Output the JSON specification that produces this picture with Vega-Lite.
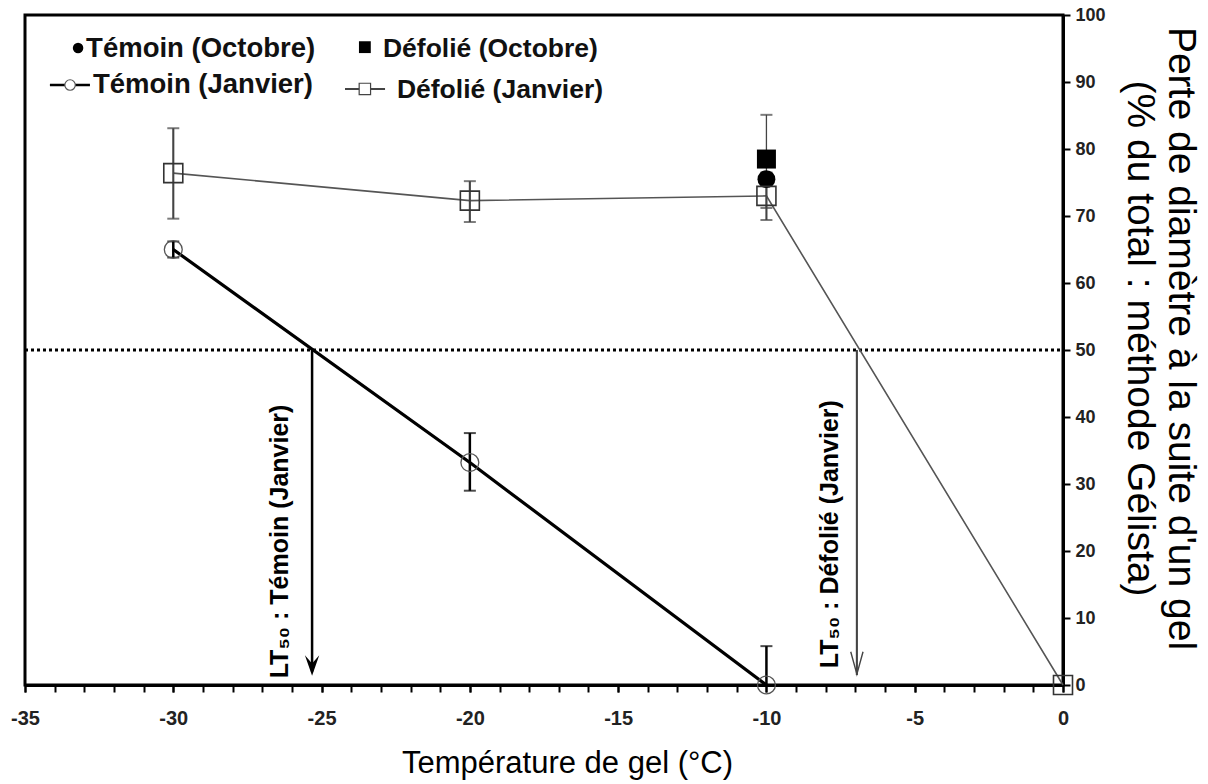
{
  "$schema": "https://vega.github.io/schema/vega-lite/v6.json",
  "width": 1038,
  "height": 670,
  "autosize": {"type": "none"},
  "padding": {"left": 25, "top": 15, "right": 145, "bottom": 99},
  "background": "white",
  "config": {
    "view": {"stroke": "black", "strokeWidth": 3},
    "axis": {"grid": false}
  },
  "resolve": {"axis": {"x": "independent"}},
  "datasets": {
    "pts": [
      {"serie": "TJ", "t": -30, "v": 65.0, "lo": 63.8, "hi": 66.2},
      {"serie": "TJ", "t": -20, "v": 33.2, "lo": 29.0, "hi": 37.6},
      {"serie": "TJ", "t": -10, "v": 0, "lo": 0, "hi": 5.8},
      {"serie": "DJ", "t": -30, "v": 76.4, "lo": 69.6, "hi": 83.1},
      {"serie": "DJ", "t": -20, "v": 72.3, "lo": 69.1, "hi": 75.2},
      {"serie": "DJ", "t": -10, "v": 73.0, "lo": 69.4, "hi": 76.5},
      {"serie": "DJ", "t": 0, "v": 0, "lo": 0, "hi": 0},
      {"serie": "TO", "t": -10, "v": 75.5, "lo": 75.5, "hi": 75.5},
      {"serie": "DO", "t": -10, "v": 78.5, "lo": 71.2, "hi": 85.1}
    ],
    "arrows": [
      {"k": "TJ", "t": -25.32, "top": 50, "tip": 2.0, "head": 2.9, "lx": -26.4, "ly": 1.0, "label": "LT₅₀ : Témoin (Janvier)"},
      {"k": "DJ", "t": -6.95, "top": 50, "tip": 1.5, "head": 3.3, "lx": -7.87, "ly": 2.5, "label": "LT₅₀ : Défolié  (Janvier)"}
    ],
    "leg": [
      {"k": "TO", "mx": -33.21, "my": 95.07, "tx": -32.94, "ty": 94.9, "x1": null, "x2": null, "label": "Témoin (Octobre)"},
      {"k": "DO", "mx": -23.54, "my": 95.2, "tx": -22.93, "ty": 95.0, "x1": null, "x2": null, "label": "Défolié (Octobre)"},
      {"k": "TJ", "mx": -33.48, "my": 89.55, "tx": -32.71, "ty": 89.55, "x1": -34.16, "x2": -32.81, "label": "Témoin (Janvier)"},
      {"k": "DJ", "mx": -23.54, "my": 88.96, "tx": -22.46, "ty": 88.8, "x1": -24.21, "x2": -22.86, "label": "Défolié (Janvier)"}
    ]
  },
  "layer": [
    {
      "data": {"values": [{"y": 50}]},
      "mark": {"type": "rule", "color": "black", "strokeWidth": 3, "strokeDash": [3, 3]},
      "encoding": {
        "y": {"field": "y", "type": "quantitative",
          "scale": {"domain": [0, 100], "nice": false},
          "axis": {
            "orient": "right",
            "values": [0, 10, 20, 30, 40, 50, 60, 70, 80, 90, 100],
            "format": "d",
            "domainColor": "black", "domainWidth": 3,
            "tickColor": "black", "tickWidth": 2, "tickSize": 7,
            "labelFont": "Liberation Sans, sans-serif",
            "labelFontWeight": "bold", "labelFontSize": 18, "labelColor": "#222",
            "labelPadding": 5,
            "title": ["Perte de diamètre à la suite d'un gel", "(% du total : méthode Gélista)"],
            "titleFont": "Liberation Sans, sans-serif",
            "titleFontWeight": "normal", "titleFontSize": 39, "titleColor": "black",
            "titleAngle": 90, "titleAlign": "center", "titleBaseline": "middle",
            "titleLineHeight": 41,
            "titleX": 117, "titleY": 323
          }
        },
        "x": {"datum": -35, "type": "quantitative",
          "scale": {"domain": [-35, 0], "nice": false, "zero": false},
          "axis": {
            "orient": "bottom",
            "values": [-35, -30, -25, -20, -15, -10, -5, 0],
            "labelExpr": "replace(format(datum.value, 'd'), '\u2212', '-')",
            "labelFlush": false, "labelOverlap": false,
            "domainColor": "black", "domainWidth": 3,
            "tickColor": "black", "tickWidth": 2, "tickSize": 7,
            "labelFont": "Liberation Sans, sans-serif",
            "labelFontWeight": "bold", "labelFontSize": 20, "labelColor": "#222",
            "labelPadding": 16,
            "title": "Température de gel (°C)",
            "titleFont": "Liberation Sans, sans-serif",
            "titleFontWeight": "normal", "titleFontSize": 31, "titleColor": "black",
            "titleAlign": "center", "titleBaseline": "middle",
            "titleX": 542, "titleY": 78
          }
        },
        "x2": {"datum": 0}
      }
    },
    {
      "data": {"name": "pts"},
      "transform": [{"filter": "datum.serie === 'DJ'"}],
      "mark": {"type": "line", "color": "#555", "strokeWidth": 1.6},
      "encoding": {
        "x": {"field": "t", "type": "quantitative",
          "axis": {
            "orient": "bottom",
            "values": [-35,-34,-33,-32,-31,-30,-29,-28,-27,-26,-25,-24,-23,-22,-21,-20,-19,-18,-17,-16,-15,-14,-13,-12,-11,-10,-9,-8,-7,-6,-5,-4,-3,-2,-1,0],
            "labels": false, "title": null, "domain": false,
            "tickColor": "black", "tickWidth": 2, "tickSize": 7
          }
        },
        "y": {"field": "v", "type": "quantitative"}
      }
    },
    {
      "data": {"name": "pts"},
      "transform": [{"filter": "datum.serie === 'TJ'"}],
      "mark": {"type": "line", "color": "black", "strokeWidth": 3.2},
      "encoding": {
        "x": {"field": "t", "type": "quantitative", "axis": null},
        "y": {"field": "v", "type": "quantitative"}
      }
    },
    {
      "data": {"name": "arrows"},
      "mark": {"type": "rule"},
      "encoding": {
        "x": {"field": "t", "type": "quantitative", "axis": null},
        "y": {"field": "top", "type": "quantitative"},
        "y2": {"field": "tip"},
        "color": {"field": "k", "type": "nominal", "scale": {"domain": ["TJ", "DJ"], "range": ["black", "#444"]}, "legend": null},
        "strokeWidth": {"field": "k", "type": "nominal", "scale": {"domain": ["TJ", "DJ"], "range": [2.5, 1.3]}, "legend": null}
      }
    },
    {
      "data": {"name": "arrows"},
      "transform": [{"filter": "datum.k === 'TJ'"}],
      "mark": {"type": "point", "shape": "M-0.7,-1L0,1L0.7,-1L0,-0.2Z", "filled": true, "color": "black", "opacity": 1, "size": 420},
      "encoding": {
        "x": {"field": "t", "type": "quantitative", "axis": null},
        "y": {"field": "head", "type": "quantitative"}
      }
    },
    {
      "data": {"name": "arrows"},
      "transform": [{"filter": "datum.k === 'DJ'"}],
      "mark": {"type": "point", "shape": "M-0.55,-1L0,1L0.55,-1", "filled": false, "fill": null, "stroke": "#444", "strokeWidth": 1.4, "opacity": 1, "size": 500},
      "encoding": {
        "x": {"field": "t", "type": "quantitative", "axis": null},
        "y": {"field": "head", "type": "quantitative"}
      }
    },
    {
      "data": {"name": "arrows"},
      "mark": {"type": "text", "angle": 270, "align": "left", "baseline": "middle", "font": "Liberation Sans, sans-serif", "fontWeight": "bold", "fontSize": 25, "color": "black"},
      "encoding": {
        "x": {"field": "lx", "type": "quantitative", "axis": null},
        "y": {"field": "ly", "type": "quantitative"},
        "text": {"field": "label"}
      }
    },
    {
      "data": {"name": "pts"},
      "transform": [{"filter": "datum.lo < datum.hi"}],
      "mark": {"type": "rule"},
      "encoding": {
        "x": {"field": "t", "type": "quantitative", "axis": null},
        "y": {"field": "lo", "type": "quantitative"},
        "y2": {"field": "hi"},
        "color": {"field": "serie", "type": "nominal", "scale": {"domain": ["TJ", "DJ", "TO", "DO"], "range": ["black", "#444", "black", "#333"]}, "legend": null},
        "strokeWidth": {"field": "serie", "type": "nominal", "scale": {"domain": ["TJ", "DJ", "TO", "DO"], "range": [2.2, 1.4, 1.4, 1.4]}, "legend": null}
      }
    },
    {
      "data": {"name": "pts"},
      "transform": [{"filter": "datum.lo < datum.hi"}, {"fold": ["lo", "hi"], "as": ["end", "ev"]}],
      "mark": {"type": "tick", "orient": "horizontal", "size": 12, "thickness": 2},
      "encoding": {
        "x": {"field": "t", "type": "quantitative", "axis": null},
        "y": {"field": "ev", "type": "quantitative"},
        "color": {"field": "serie", "type": "nominal", "scale": {"domain": ["TJ", "DJ", "TO", "DO"], "range": ["black", "#444", "black", "#333"]}, "legend": null}
      }
    },
    {
      "data": {"name": "pts"},
      "transform": [{"filter": "datum.serie === 'DO'"}],
      "mark": {"type": "point", "shape": "square", "filled": true, "color": "black", "opacity": 1, "size": 361},
      "encoding": {
        "x": {"field": "t", "type": "quantitative", "axis": null},
        "y": {"field": "v", "type": "quantitative"}
      }
    },
    {
      "data": {"name": "pts"},
      "transform": [{"filter": "datum.serie === 'TO'"}],
      "mark": {"type": "point", "shape": "circle", "filled": true, "color": "black", "opacity": 1, "size": 320},
      "encoding": {
        "x": {"field": "t", "type": "quantitative", "axis": null},
        "y": {"field": "v", "type": "quantitative"}
      }
    },
    {
      "data": {"name": "pts"},
      "transform": [{"filter": "datum.serie === 'DJ'"}],
      "mark": {"type": "point", "shape": "square", "filled": false, "fill": "white", "fillOpacity": 0, "stroke": "#333", "strokeWidth": 1.6, "opacity": 1, "size": 361},
      "encoding": {
        "x": {"field": "t", "type": "quantitative", "axis": null},
        "y": {"field": "v", "type": "quantitative"}
      }
    },
    {
      "data": {"name": "pts"},
      "transform": [{"filter": "datum.serie === 'TJ'"}],
      "mark": {"type": "point", "shape": "circle", "filled": false, "fillOpacity": 0, "stroke": "#555", "strokeWidth": 1.3, "opacity": 1, "size": 320},
      "encoding": {
        "x": {"field": "t", "type": "quantitative", "axis": null},
        "y": {"field": "v", "type": "quantitative"}
      }
    },
    {
      "data": {"name": "leg"},
      "transform": [{"filter": "datum.x1 !== null"}],
      "mark": {"type": "rule"},
      "encoding": {
        "x": {"field": "x1", "type": "quantitative", "axis": null},
        "x2": {"field": "x2"},
        "y": {"field": "my", "type": "quantitative"},
        "color": {"field": "k", "type": "nominal", "scale": {"domain": ["TJ", "DJ"], "range": ["black", "#444"]}, "legend": null},
        "strokeWidth": {"field": "k", "type": "nominal", "scale": {"domain": ["TJ", "DJ"], "range": [3, 1.4]}, "legend": null}
      }
    },
    {
      "data": {"name": "leg"},
      "transform": [{"filter": "datum.k === 'TO'"}],
      "mark": {"type": "point", "shape": "circle", "filled": true, "color": "black", "opacity": 1, "size": 110},
      "encoding": {
        "x": {"field": "mx", "type": "quantitative", "axis": null},
        "y": {"field": "my", "type": "quantitative"}
      }
    },
    {
      "data": {"name": "leg"},
      "transform": [{"filter": "datum.k === 'DO'"}],
      "mark": {"type": "point", "shape": "square", "filled": true, "color": "black", "opacity": 1, "size": 140},
      "encoding": {
        "x": {"field": "mx", "type": "quantitative", "axis": null},
        "y": {"field": "my", "type": "quantitative"}
      }
    },
    {
      "data": {"name": "leg"},
      "transform": [{"filter": "datum.k === 'TJ'"}],
      "mark": {"type": "point", "shape": "circle", "filled": true, "color": "white", "stroke": "#555", "strokeWidth": 1.2, "opacity": 1, "size": 110},
      "encoding": {
        "x": {"field": "mx", "type": "quantitative", "axis": null},
        "y": {"field": "my", "type": "quantitative"}
      }
    },
    {
      "data": {"name": "leg"},
      "transform": [{"filter": "datum.k === 'DJ'"}],
      "mark": {"type": "point", "shape": "square", "filled": true, "color": "white", "stroke": "#444", "strokeWidth": 1.2, "opacity": 1, "size": 130},
      "encoding": {
        "x": {"field": "mx", "type": "quantitative", "axis": null},
        "y": {"field": "my", "type": "quantitative"}
      }
    },
    {
      "data": {"name": "leg"},
      "transform": [{"filter": "datum.k === 'TO' || datum.k === 'TJ'"}],
      "mark": {"type": "text", "align": "left", "baseline": "middle", "font": "Liberation Sans, sans-serif", "fontWeight": "bold", "fontSize": 27.5, "color": "#111"},
      "encoding": {
        "x": {"field": "tx", "type": "quantitative", "axis": null},
        "y": {"field": "ty", "type": "quantitative"},
        "text": {"field": "label"}
      }
    },
    {
      "data": {"name": "leg"},
      "transform": [{"filter": "datum.k === 'DO' || datum.k === 'DJ'"}],
      "mark": {"type": "text", "align": "left", "baseline": "middle", "font": "Liberation Sans, sans-serif", "fontWeight": "bold", "fontSize": 26.5, "color": "#111"},
      "encoding": {
        "x": {"field": "tx", "type": "quantitative", "axis": null},
        "y": {"field": "ty", "type": "quantitative"},
        "text": {"field": "label"}
      }
    }
  ]
}
